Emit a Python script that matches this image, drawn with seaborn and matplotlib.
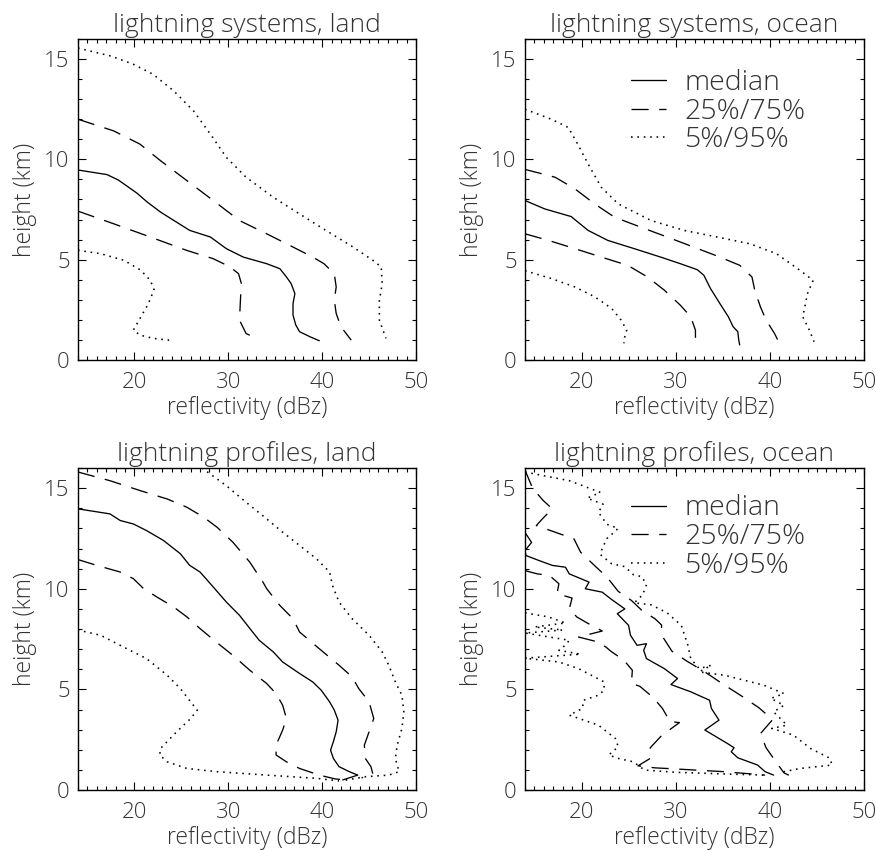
import matplotlib
matplotlib.use("Agg")
import matplotlib.pyplot as plt
import seaborn as sns
import pandas as pd
from matplotlib.lines import Line2D
from matplotlib.ticker import MultipleLocator

sns.set_style("ticks")
plt.rcParams["font.family"] = ["Open Sans", "DejaVu Sans"]
plt.rcParams["font.weight"] = "light"
plt.rcParams["axes.titleweight"] = "light"
plt.rcParams["axes.labelweight"] = "light"

# ---------------- data (dBz, km) ----------------
# lightning systems, land
sl_p50_x = [14.0, 17.1, 18.3, 20.3, 21.3, 22.8, 24.5, 25.9, 28.1, 29.8, 31.6, 34.1, 35.5, 36.2, 36.7, 37.1, 36.9, 36.9, 37.2, 37.6, 38.7, 39.7]
sl_p50_y = [9.47, 9.24, 8.97, 8.31, 7.9, 7.37, 6.87, 6.46, 6.13, 5.55, 5.13, 4.8, 4.55, 4.14, 3.81, 3.31, 2.81, 2.24, 1.74, 1.41, 1.16, 0.96]
sl_p25_x = [14.0, 17.8, 21.7, 25.6, 28.4, 30.2, 31.1, 31.4, 31.3, 31.2, 31.9, 33.0]
sl_p25_y = [7.42, 6.79, 6.13, 5.46, 5.05, 4.64, 4.3, 3.81, 2.98, 1.99, 1.32, 1.08]
sl_p75_x = [14.0, 17.8, 20.6, 22.8, 25.6, 28.4, 31.2, 34.1, 36.9, 39.0, 40.2, 41.3, 41.5, 41.3, 41.5, 42.0, 43.1]
sl_p75_y = [12.0, 11.42, 10.76, 9.93, 8.94, 7.95, 6.95, 6.29, 5.63, 5.13, 4.8, 4.3, 3.64, 2.98, 2.32, 1.66, 0.99]
sl_p95_x = [14.0, 17.5, 19.9, 22.0, 24.2, 26.3, 28.1, 29.8, 31.9, 34.8, 37.6, 40.4, 43.3, 45.4, 46.3, 46.4, 46.1, 46.1, 46.8]
sl_p95_y = [15.55, 15.15, 14.74, 14.24, 13.41, 12.42, 11.26, 10.1, 9.11, 8.11, 7.28, 6.46, 5.63, 4.97, 4.64, 3.81, 2.98, 1.99, 1.08]
sl_p5_x = [14.0, 16.4, 18.9, 20.7, 21.7, 22.1, 21.5, 20.6, 19.9, 20.6, 22.0, 24.2]
sl_p5_y = [5.47, 5.3, 4.97, 4.47, 3.97, 3.51, 2.81, 2.07, 1.49, 1.24, 1.08, 0.96]

# lightning systems, ocean
so_p50_x = [14.0, 14.0, 16.1, 18.9, 20.7, 22.8, 25.6, 28.4, 30.5, 32.3, 33.0, 33.7, 34.7, 35.6, 36.1, 36.6, 36.7, 36.8]
so_p50_y = [13.5, 7.95, 7.53, 7.15, 6.46, 5.96, 5.55, 5.13, 4.8, 4.5, 4.22, 3.56, 2.81, 2.15, 1.66, 1.41, 0.99, 0.75]
so_p25_x = [14.0, 16.5, 19.3, 22.1, 24.9, 27.0, 28.8, 30.5, 31.6, 32.1, 32.1]
so_p25_y = [6.29, 5.96, 5.55, 5.13, 4.72, 4.14, 3.48, 2.73, 2.15, 1.49, 0.75]
so_p75_x = [14.0, 17.2, 19.3, 21.4, 23.5, 26.3, 29.1, 31.9, 34.7, 36.8, 38.1, 38.4, 39.0, 39.6, 40.5, 41.1]
so_p75_y = [9.5, 9.11, 8.53, 7.78, 7.12, 6.62, 6.13, 5.63, 5.13, 4.72, 4.14, 3.48, 2.65, 1.99, 1.32, 0.75]
so_p95_x = [14.0, 16.8, 18.6, 19.6, 20.7, 22.1, 23.9, 27.4, 30.9, 34.4, 37.9, 40.7, 43.2, 44.6, 44.0, 43.5, 44.2, 44.7]
so_p95_y = [12.5, 12.0, 11.59, 10.76, 9.77, 8.61, 7.78, 6.95, 6.46, 6.13, 5.79, 5.3, 4.47, 3.97, 3.31, 2.15, 1.49, 0.91]
so_p5_x = [14.0, 16.8, 19.3, 21.4, 23.2, 24.2, 24.8, 24.6, 24.5]
so_p5_y = [4.45, 4.06, 3.64, 3.15, 2.57, 1.99, 1.49, 1.16, 0.83]

# lightning profiles, land
pl_p50_x = [14.0, 17.4, 18.5, 19.9, 21.3, 23.1, 24.9, 25.9, 27.0, 28.1, 29.8, 31.2, 32.6, 33.3, 34.8, 35.8, 37.6, 39.0, 39.9, 40.8, 41.3, 41.7, 41.5, 41.2, 40.9, 41.2, 41.8, 42.9, 43.8, 42.2]
pl_p50_y = [13.97, 13.72, 13.39, 13.22, 12.89, 12.4, 11.74, 11.16, 10.83, 10.25, 9.34, 8.68, 7.85, 7.44, 6.86, 6.36, 5.79, 5.37, 4.96, 4.38, 3.97, 3.47, 2.89, 2.4, 1.98, 1.57, 1.16, 0.91, 0.74, 0.5]
pl_p25_x = [14.0, 16.0, 18.5, 19.9, 21.0, 22.4, 24.2, 25.6, 27.0, 28.7, 30.5, 32.3, 34.1, 35.1, 35.8, 36.2, 35.8, 35.1, 35.1, 36.2, 37.6, 39.7, 41.4, 42.5]
pl_p25_y = [11.45, 11.16, 10.83, 10.5, 10.0, 9.59, 9.09, 8.6, 8.02, 7.36, 6.69, 5.95, 5.29, 4.79, 4.21, 3.55, 2.98, 2.23, 1.74, 1.4, 1.07, 0.74, 0.55, 0.5]
pl_p75_x = [14.0, 17.4, 20.6, 23.5, 25.6, 27.4, 28.8, 30.5, 32.3, 33.7, 34.1, 35.5, 36.9, 37.6, 39.7, 41.8, 43.2, 43.9, 45.0, 45.5, 45.0, 44.5, 44.6, 45.2, 45.4, 44.2]
pl_p75_y = [15.8, 15.37, 14.88, 14.46, 14.05, 13.55, 13.06, 12.31, 11.32, 10.33, 10.0, 9.17, 8.51, 7.85, 7.02, 6.2, 5.62, 5.04, 4.38, 3.55, 2.89, 2.23, 1.57, 1.16, 0.8, 0.6]
pl_p95_x = [27.2, 29.8, 31.9, 34.1, 35.8, 37.6, 39.4, 40.8, 41.1, 41.8, 43.2, 45.0, 46.4, 47.1, 47.8, 48.5, 48.7, 48.5, 48.0, 47.8, 48.2, 47.1, 44.6, 42.0]
pl_p95_y = [16.0, 15.12, 14.3, 13.47, 12.81, 12.15, 11.49, 10.83, 10.17, 9.34, 8.51, 7.69, 6.86, 6.2, 5.37, 4.71, 3.88, 3.06, 2.23, 1.57, 0.91, 0.74, 0.66, 0.45]
pl_p5_x = [14.0, 14.0, 16.4, 19.2, 21.3, 23.5, 24.9, 26.0, 26.7, 26.0, 24.5, 22.8, 22.7, 23.5, 25.6, 28.8, 34.1, 39.4, 41.8]
pl_p5_y = [15.9, 7.95, 7.69, 7.02, 6.53, 5.7, 5.04, 4.38, 3.97, 3.55, 2.89, 2.07, 1.74, 1.4, 1.07, 0.91, 0.74, 0.58, 0.45]

# lightning profiles, ocean
po_p50_x = [14.0, 14.0, 14.7, 14.0, 14.1, 15.5, 16.9, 18.3, 18.7, 20.8, 20.4, 22.2, 23.1, 24.6, 23.8, 25.0, 25.2, 25.9, 26.9, 26.6, 26.9, 28.8, 30.2, 29.5, 31.6, 33.6, 33.8, 34.6, 33.1, 35.5, 36.2, 35.9, 36.6, 38.7, 39.5, 40.4]
po_p50_y = [15.9, 12.8, 12.3, 11.9, 11.65, 11.4, 11.16, 11.07, 10.74, 10.33, 10.0, 9.83, 9.5, 9.0, 8.76, 8.18, 7.69, 7.19, 7.27, 6.94, 6.53, 6.03, 5.54, 5.24, 4.88, 4.46, 4.05, 3.47, 2.98, 2.31, 2.1, 1.9, 1.6, 1.24, 0.91, 0.74]
po_p25_x = [14.0, 15.3, 16.6, 17.6, 17.4, 19.0, 18.7, 19.5, 20.6, 22.2, 19.7, 21.8, 22.6, 23.1, 24.5, 25.4, 25.3, 26.2, 27.6, 28.6, 29.4, 30.4, 28.5, 27.3, 27.4, 26.0, 27.8, 29.9, 32.4, 34.8, 38.0, 39.5]
po_p25_y = [10.9, 10.74, 10.66, 10.25, 9.75, 9.54, 9.0, 8.6, 8.3, 7.9, 7.6, 7.35, 7.1, 6.9, 6.45, 5.95, 5.3, 5.15, 4.6, 4.05, 3.4, 3.35, 2.7, 2.1, 1.6, 1.2, 1.1, 1.05, 0.98, 0.92, 0.8, 0.74]
po_p75_x = [14.0, 14.8, 15.9, 16.9, 15.9, 15.2, 16.9, 19.2, 19.9, 21.3, 22.7, 23.9, 25.3, 26.4, 27.8, 28.5, 28.5, 29.6, 31.2, 33.0, 34.9, 36.9, 38.8, 40.3, 39.0, 39.6, 40.5, 41.5, 42.0]
po_p75_y = [15.9, 15.0, 14.4, 13.97, 13.5, 13.14, 12.86, 12.48, 11.82, 11.19, 10.58, 9.87, 9.42, 8.93, 8.51, 8.2, 7.7, 6.9, 6.4, 5.9, 5.3, 4.7, 4.1, 3.5, 2.8, 2.1, 1.5, 0.85, 0.74]
po_p95_x = [14.0, 18.7, 22.0, 20.6, 22.3, 21.8, 22.7, 23.9, 23.2, 22.7, 22.2, 22.0, 23.2, 24.6, 25.5, 26.4, 26.9, 26.5, 25.6, 27.4, 29.1, 30.6, 31.3, 31.6, 32.5, 33.8, 32.5, 35.2, 38.0, 39.4, 41.5, 40.1, 41.5, 40.4, 41.3, 41.8, 40.2, 42.5, 44.3, 46.4, 46.6, 43.2, 41.5, 42.0]
po_p95_y = [15.8, 15.37, 14.79, 14.5, 14.2, 13.8, 13.2, 13.0, 12.7, 12.5, 12.0, 11.7, 11.24, 11.1, 10.7, 10.6, 10.2, 9.7, 9.3, 9.2, 8.8, 8.18, 7.19, 6.53, 6.03, 6.2, 5.87, 5.7, 5.37, 5.2, 4.79, 4.55, 4.21, 3.88, 3.47, 3.22, 3.06, 2.73, 2.07, 1.57, 1.24, 1.07, 0.91, 0.74]
po_p5_x = [14.0, 16.5, 18.3, 15.0, 18.0, 14.0, 18.7, 18.3, 17.6, 19.9, 14.0, 17.6, 19.7, 22.4, 22.4, 21.8, 20.2, 20.1, 18.7, 21.8, 23.6, 23.9, 22.9, 23.9, 25.5, 26.2, 26.7, 30.0, 35.0, 39.4]
po_p5_y = [8.8, 8.6, 8.3, 8.1, 7.95, 7.8, 7.44, 7.2, 6.94, 6.75, 6.55, 6.36, 6.03, 5.37, 4.96, 4.71, 4.46, 4.05, 3.72, 3.22, 2.56, 2.15, 1.74, 1.57, 1.4, 1.16, 0.99, 0.88, 0.8, 0.74]

titles = ["lightning systems, land", "lightning systems, ocean",
          "lightning profiles, land", "lightning profiles, ocean"]
legend_labels = ["median", "25%/75%", "5%/95%"]
x_ticks = [20, 30, 40, 50]
y_ticks = [0, 5, 10, 15]

panels = [
    dict(p50=(sl_p50_x, sl_p50_y), p25=(sl_p25_x, sl_p25_y), p75=(sl_p75_x, sl_p75_y), p5=(sl_p5_x, sl_p5_y), p95=(sl_p95_x, sl_p95_y)),
    dict(p50=(so_p50_x, so_p50_y), p25=(so_p25_x, so_p25_y), p75=(so_p75_x, so_p75_y), p5=(so_p5_x, so_p5_y), p95=(so_p95_x, so_p95_y)),
    dict(p50=(pl_p50_x, pl_p50_y), p25=(pl_p25_x, pl_p25_y), p75=(pl_p75_x, pl_p75_y), p5=(pl_p5_x, pl_p5_y), p95=(pl_p95_x, pl_p95_y)),
    dict(p50=(po_p50_x, po_p50_y), p25=(po_p25_x, po_p25_y), p75=(po_p75_x, po_p75_y), p5=(po_p5_x, po_p5_y), p95=(po_p95_x, po_p95_y)),
]
has_legend = [False, True, False, True]

# ---------------- styling ----------------
W, H = 876, 851
LW = 0.95
DLW = 1.15
DASH = (0, (13, 8))
DOT = (0, (1.0, 3.0))
styles = {"p50": "-", "p25": DASH, "p75": DASH, "p5": DOT, "p95": DOT}
widths = {"p50": LW, "p25": LW, "p75": LW, "p5": DLW, "p95": DLW}
TXT = "#333333"

# axes boxes in pixels: left, top, right, bottom
boxes = [(78, 39, 416, 360), (525, 39, 864, 360),
         (78, 468, 416, 790), (525, 468, 864, 790)]
legend_anchor = [None, (0.272, 0.95), None, (0.272, 0.962)]

fig = plt.figure(figsize=(W / 100, H / 100), dpi=100)
fig.patch.set_facecolor("white")

for i, (box, data, title) in enumerate(zip(boxes, panels, titles)):
    l, t, r, b = box
    ax = fig.add_axes([l / W, 1 - b / H, (r - l) / W, (b - t) / H])
    for key in ["p5", "p95", "p25", "p75", "p50"]:
        xs, ys = data[key]
        df = pd.DataFrame({"dbz": xs, "height": ys})
        sns.lineplot(data=df, x="dbz", y="height", sort=False, estimator=None,
                     color="black", linewidth=widths[key], linestyle=styles[key],
                     ax=ax, legend=False)
    ax.set_xlim(14, 50)
    ax.set_ylim(0, 16)
    ax.set_xticks(x_ticks)
    ax.set_yticks(y_ticks)
    ax.xaxis.set_minor_locator(MultipleLocator(1))
    ax.yaxis.set_minor_locator(MultipleLocator(1))
    ax.tick_params(which="both", direction="in", top=True, right=True,
                   colors="black", labelcolor=TXT, width=0.8)
    ax.tick_params(which="major", length=6, labelsize=16)
    ax.tick_params(which="minor", length=3)
    ax.tick_params(axis="x", which="major", pad=9)
    ax.tick_params(axis="y", which="major", pad=6)
    for s in ax.spines.values():
        s.set_linewidth(1.0)
        s.set_color("black")
    ax.set_xlabel("reflectivity (dBz)", fontsize=16.5, color=TXT, labelpad=2,
                  fontweight="light")
    ax.set_ylabel("height (km)", fontsize=16.5, color=TXT, labelpad=5,
                  fontweight="light")
    ax.set_title(title, fontsize=19, color=TXT, pad=5, fontweight="light")
    if has_legend[i]:
        handles = [Line2D([0], [0], color="black", lw=widths[k], linestyle=styles[k])
                   for k in ["p50", "p25", "p5"]]
        ax.legend(handles, legend_labels, loc="upper left",
                  bbox_to_anchor=legend_anchor[i], frameon=False, fontsize=20.5,
                  handlelength=1.2, handletextpad=0.65, labelspacing=0.02,
                  borderpad=0, labelcolor=TXT)

fig.savefig("out.png", dpi=100)
